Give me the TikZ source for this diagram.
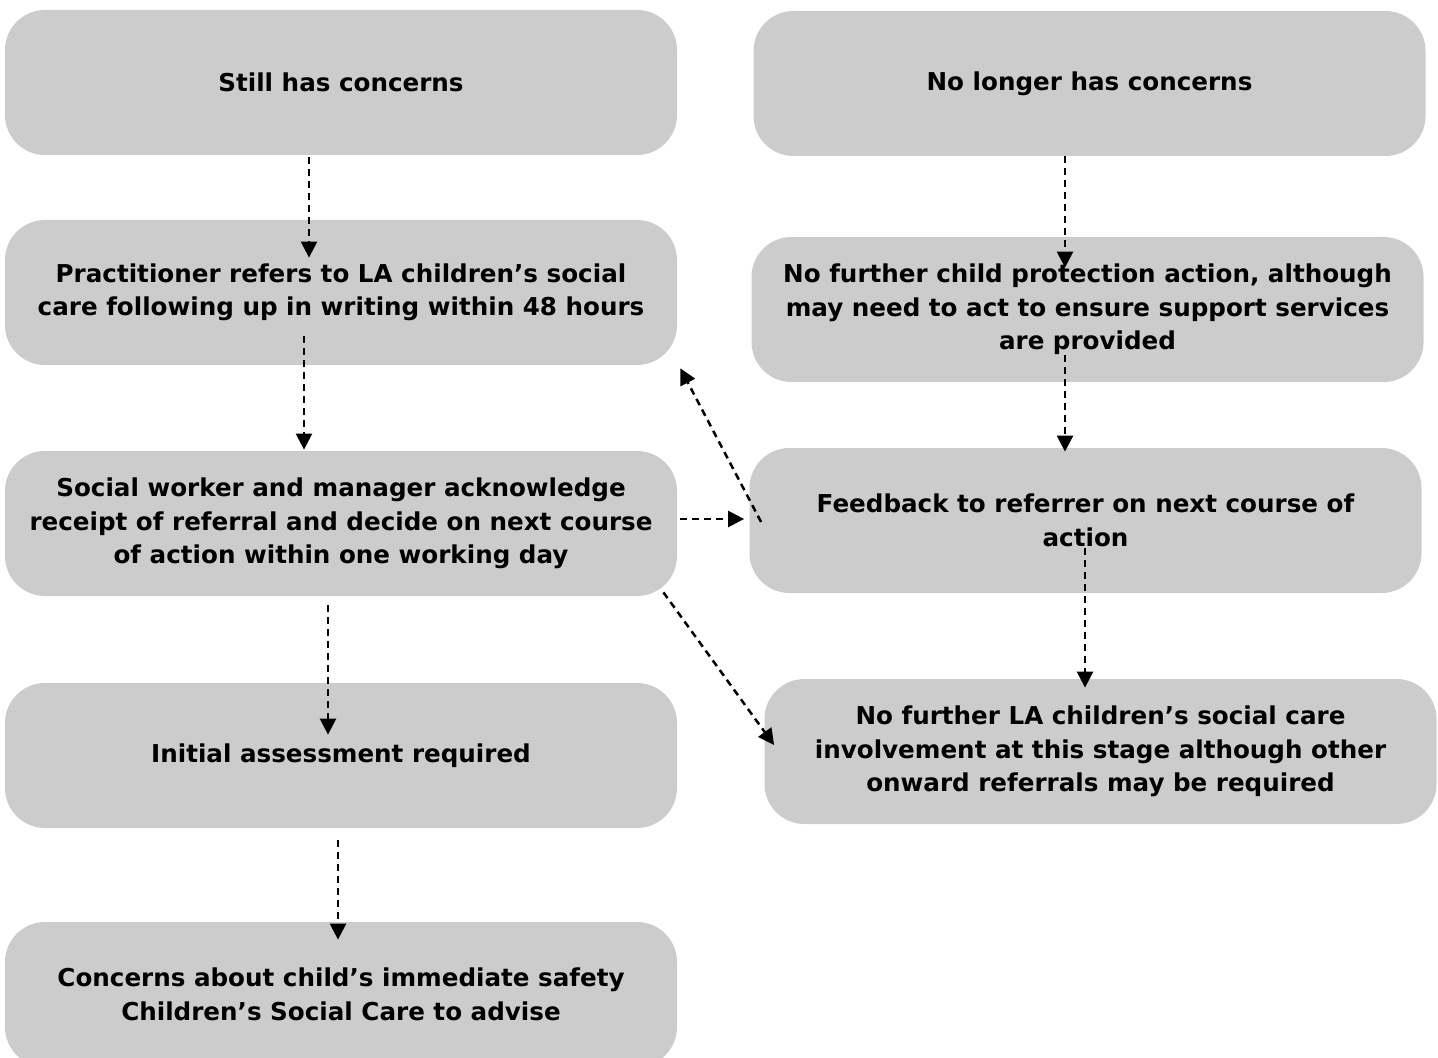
\documentclass[tikz,border=0pt]{standalone}
\usepackage{fontspec}
\setmainfont{DejaVu Sans}
\usetikzlibrary{calc,arrows.meta}
\tikzset{
	stage/.style={fill=black!20, rounded corners=20pt, minimum width=336pt, minimum height=72.5pt, inner sep=0pt, align=center, font=\bfseries\fontsize{12.3}{16.75}\selectfont},
	flow/.style={line width=1.25pt, dash pattern=on 3.5pt off 2.5pt, -{Triangle[length=8pt,width=8pt]}}
}

\begin{document}
\begin{tikzpicture}[x=0.5pt, y=-0.5pt]
			%%%%% START %%%%%
			\useasboundingbox (0, 0) rectangle (1438, 1058);
			\clip (0, 0) rectangle (1438, 1058);
			
			% left column
			\node[stage] (still) at (341, 82.5) {Still has concerns};
			\node[stage] (refer) at (341, 292.5) {Practitioner refers to LA children’s social\\care following up in writing within 48 hours};
			\node[stage] (ack) at (341, 523.5) {Social worker and manager acknowledge\\receipt of referral and decide on next course\\of action within one working day};
			\node[stage] (initial) at (341, 755.5) {Initial assessment required};
			\node[stage] (safety) at (341, 994.5) {Concerns about child’s immediate safety\\Children’s Social Care to advise};
			
			% right column
			\node[stage] (nolonger) at (1089.5, 83.5) {No longer has concerns};
			\node[stage] (noaction) at (1087.5, 309.5) {No further child protection action, although\\may need to act to ensure support services\\are provided};
			\node[stage] (feedback) at (1085.5, 520.5) {Feedback to referrer on next course of\\action};
			\node[stage] (noinvolve) at (1100.5, 751.5) {No further LA children’s social care\\involvement at this stage although other\\onward referrals may be required};
			
			% connectors
			\draw[flow] ($(still.south)+(-32, 2)$) -- ($(refer.north)+(-32, 38)$);
			\draw[flow] ($(refer.south)+(-37, -29)$) -- ($(ack.north)+(-37, -1)$);
			\draw[flow] ($(ack.south)+(-13, 9)$) -- ($(initial.north)+(-13, 52)$);
			\draw[flow] ($(initial.south)+(-3, 12)$) -- ($(safety.north)+(-3, 18)$);
			\draw[flow] ($(ack.east)+(3, -4.5)$) -- ($(feedback.west)+(-5, -1.5)$);
			\draw[flow] ($(feedback.west)+(12, 1.5)$) -- ($(refer.south east)+(3, 3)$);
			\draw[flow] ($(ack.south east)+(-14, -4)$) -- ($(noinvolve.west)+(10, -6.5)$);
			\draw[flow] ($(nolonger.south)+(-24.5, 0)$) -- ($(noaction.north)+(-22.5, 31)$);
			\draw[flow] ($(noaction.south)+(-22.5, -27)$) -- ($(feedback.north)+(-20.5, 4)$);
			\draw[flow] ($(feedback.south)+(-0.5, -45)$) -- ($(noinvolve.north)+(-15.5, 9)$);
			
			%%%%% END %%%%%
\end{tikzpicture}
\end{document}
